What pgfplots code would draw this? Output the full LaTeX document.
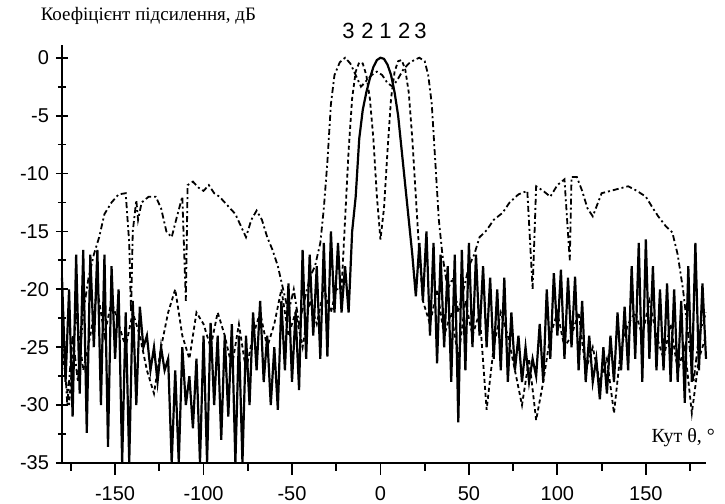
\documentclass[border=0pt]{standalone}
\usepackage{fontspec}
\setmainfont{Liberation Serif}
\newfontfamily\sansf{Liberation Sans}
\usepackage{pgfplots}
\pgfplotsset{compat=1.18}

\begin{document}
\begin{tikzpicture}
\begin{axis}[
    scale only axis,
    width=322pt, height=209pt,
    xmin=-180, xmax=184,
    ymin=-35, ymax=1.1,
    axis x line=bottom, axis y line=left,
    axis line style={-, line width=1pt},
    xtick={-150,-100,...,150},
    minor xtick={-175,-125,...,175},
    ytick={0,-5,...,-35},
    minor ytick={-2.5,-7.5,...,-32.5},
    x tick style={line width=0.9pt, black},
    y tick style={line width=0.9pt, black},
    xtick align=outside,
    ytick align=center,
    major tick length=6pt,
    minor tick length=4pt,
    /pgf/number format/assume math mode=true,
    ticklabel style={font=\sansf\fontsize{10}{10}\selectfont},
    xticklabel style={yshift=-2pt},
    clip=false,
]
% 1 - solid
\addplot[black, line width=1.1pt] coordinates {
(-180,-19) (-178,-28) (-176,-20) (-174,-31) (-172,-17) (-170,-29)
(-168,-16.6) (-166,-32.4) (-164,-17) (-162,-25) (-160,-16.6) (-158,-30)
(-156,-17) (-154,-33.6) (-152,-18) (-150,-26) (-148,-20) (-146,-35)
(-144,-22) (-142,-35) (-140,-21) (-138,-30) (-136,-21.5) (-134,-25)
(-132,-24) (-130,-27) (-128,-25) (-126,-28) (-124,-25) (-122,-27)
(-120,-26) (-118,-35) (-116,-27) (-114,-35) (-112,-25) (-110,-30)
(-108,-27.5) (-106,-32) (-104,-26) (-102,-35) (-100,-24) (-98,-35)
(-96,-22.9) (-94,-30) (-92,-24) (-90,-33) (-88,-24) (-86,-31)
(-84,-23) (-82,-35) (-80,-24) (-78,-35) (-76,-24) (-74,-30)
(-72,-22) (-70,-27) (-68,-21) (-66,-28) (-64,-24) (-62,-30)
(-60,-25) (-58,-30.4) (-56,-21) (-54,-27) (-52,-19.5) (-50,-28)
(-48,-22) (-46,-28.7) (-44,-16.6) (-42,-26) (-40,-17) (-38,-24)
(-36,-18) (-34,-26) (-32,-16) (-30,-25.8) (-28,-15) (-26,-22)
(-24,-16) (-22,-22) (-20,-18) (-18,-22)
(-16,-15) (-14,-12) (-12,-7) (-10,-4.5) (-8,-3) (-6,-1.8) (-4,-0.8)
(-2,-0.2) (0,0) (2,-0.1) (4,-0.6) (6,-1.5) (8,-3) (10,-5) (12,-8)
(14,-11) (16,-14) (18,-17) (20,-20.6)
(22,-16) (24,-21) (26,-15) (28,-24) (30,-16) (32,-26.4)
(34,-17) (36,-25) (38,-18) (40,-28) (42,-17) (44,-31.5)
(46,-16.6) (48,-27) (50,-16) (52,-25) (54,-17) (56,-24)
(58,-18) (60,-25) (62,-19) (64,-26) (66,-20) (68,-27)
(70,-19) (72,-28) (74,-22) (76,-27) (78,-24) (80,-28)
(82,-25) (84,-28) (86,-26) (88,-27.5) (90,-23) (92,-28)
(94,-20) (96,-26) (98,-18.6) (100,-24) (102,-18.3) (104,-26)
(106,-19) (108,-25) (110,-18.9) (112,-27) (114,-21) (116,-28)
(118,-24) (120,-28) (122,-26) (124,-29.5) (126,-25) (128,-29)
(130,-24) (132,-28) (134,-22) (136,-27) (138,-21.5) (140,-27)
(142,-18) (144,-26) (146,-16) (148,-28) (150,-15.7) (152,-26)
(154,-18) (156,-27) (158,-20) (160,-27) (162,-19.5) (164,-28)
(166,-20) (168,-28) (170,-21) (172,-29.8) (174,-18) (176,-28)
(178,-16) (180,-27) (182,-19.5) (184,-26)
};
% 2 - dashed
\addplot[black, line width=0.9pt, dash pattern=on 2pt off 1.5pt] coordinates {
(-180,-25) (-176,-30) (-172,-22) (-168,-27) (-164,-24) (-160,-20)
(-156,-24) (-152,-21) (-148,-23) (-144,-25) (-140,-22) (-136,-24)
(-132,-27) (-128,-29) (-124,-25) (-120,-22) (-116,-20) (-112,-24)
(-108,-26) (-104,-22) (-100,-23) (-96,-25) (-92,-22) (-88,-24)
(-84,-26.7) (-80,-23) (-76,-27) (-72,-24) (-68,-22) (-64,-25)
(-60,-23) (-56,-20) (-52,-24) (-48,-22) (-44,-25) (-40,-21)
(-36,-23) (-32,-20) (-28,-22) (-25,-20)
(-22,-20) (-20,-14) (-18,-8) (-16,-3.5) (-14,-1.2) (-12,-0.4) (-10,-0.5)
(-8,-1.5) (-6,-3.5) (-4,-7) (-2,-12) (0,-15.7) (2,-13) (4,-8)
(6,-3.5) (8,-1.2) (10,-0.3) (12,-0.2) (14,-1) (16,-3) (18,-7)
(20,-12) (22,-17) (24,-21)
(28,-23) (32,-20) (36,-24) (40,-22) (44,-26) (48,-21) (52,-24)
(56,-22) (60,-30.4) (64,-25) (68,-22) (72,-24) (76,-27) (80,-30)
(84,-26) (88,-31.3) (92,-28) (96,-24) (100,-22) (104,-25) (108,-24)
(112,-22) (116,-27) (120,-25) (124,-28) (128,-26) (132,-30.7)
(136,-25) (140,-23) (144,-22) (148,-24) (152,-21) (156,-24)
(160,-26) (164,-23) (168,-27) (172,-25) (176,-30.7) (180,-26) (184,-24)
};
% 3 - dash-dotted
\addplot[black, line width=0.9pt, dash pattern=on 3pt off 1.5pt on 1pt off 1.5pt] coordinates {
(-180,-22) (-177,-30) (-174,-24) (-171,-28) (-168,-22) (-165,-19)
(-162,-17) (-159,-15.5) (-156,-13.5) (-152,-12.5) (-148,-11.8)
(-144,-11.7) (-142,-16) (-141,-22) (-140,-15) (-138,-12.3) (-137,-14)
(-135,-12.5) (-131,-12) (-127,-12) (-124,-13) (-121,-15) (-118,-15.5)
(-115,-13.7) (-112,-12) (-110,-21) (-109,-11) (-106,-10.7) (-103,-11.2)
(-100,-11.5) (-97,-11) (-94,-11.7) (-91,-12) (-88,-12.5) (-85,-13)
(-82,-13.5) (-79,-14.5) (-76,-15.5) (-73,-14) (-70,-13.2) (-67,-14)
(-64,-15.5) (-61,-16.6) (-58,-18) (-55,-20) (-52,-22) (-49,-20)
(-46,-23) (-43,-21) (-40,-19) (-37,-18) (-34,-16) (-32,-13)
(-30,-9) (-28,-4) (-26,-1.5) (-23,-0.4) (-20,0) (-17,-0.5)
(-14,-1.5) (-11,-2.5) (-8,-2) (-5,-1.5) (-2,-1.2) (1,-1.5)
(4,-2.2) (7,-2.5) (10,-1.8) (13,-1) (16,-0.5) (19,-0.2) (22,0)
(25,-0.3) (27,-1.5) (29,-4) (31,-9) (33,-14) (35,-17) (38,-20)
(41,-19) (44,-22) (47,-20) (50,-18) (53,-17) (56,-15.5) (60,-14.9)
(64,-14) (69,-13.4) (73,-12.5) (78,-11.8) (83,-11.5) (86,-20)
(88,-11.1) (92,-11.5) (96,-12) (100,-11) (104,-10.5) (107,-17.5)
(108,-10.3) (111,-10.3) (114,-11.5) (117,-13) (120,-13.7) (123,-12.5)
(125,-11.7) (130,-11.5) (135,-11.3) (140,-11.1) (145,-11.5) (150,-12)
(154,-13) (157,-13.7) (161,-14.5) (165,-15.1) (168,-17) (171,-20)
(174,-24) (177,-28) (180,-24) (184,-22)
};
% labels
\node[anchor=west, font=\fontsize{9.5}{10}\selectfont] at (axis cs:-196,3.6) {Коефіцієнт підсилення, дБ};
\node[anchor=east, font=\fontsize{10}{10}\selectfont] at (axis cs:193,-32.8) {Кут θ, °};
\foreach \xx/\tt in {-18/3,-7.3/2,2.8/1,13.5/2,22.6/3} {
  \edef\tmp{\noexpand\node[font=\noexpand\sansf\noexpand\fontsize{11}{11}\noexpand\selectfont] at (axis cs:\xx,2.3) {\tt};}
  \tmp
}
\end{axis}
\pgfresetboundingbox
\path[use as bounding box] (-31pt,-20.5pt) rectangle (331.5pt,231.5pt);
\end{tikzpicture}
\end{document}
